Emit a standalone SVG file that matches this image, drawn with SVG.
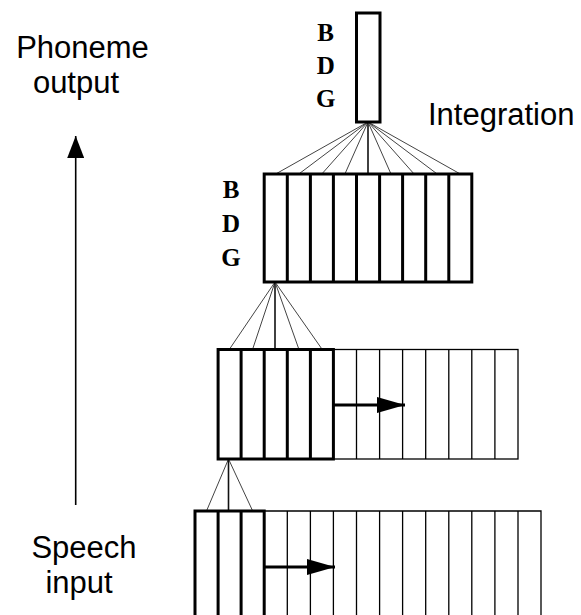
<svg xmlns="http://www.w3.org/2000/svg" width="581" height="615" viewBox="0 0 581 615">
  <style>
    .thick { fill: none; stroke: #000; stroke-width: 3; }
    .thin { fill: none; stroke: #000; stroke-width: 1.3; }
    .fan { stroke: #444; stroke-width: 1; fill: none; }
    .fanc { stroke: #111; stroke-width: 1.6; fill: none; }
    .lbl { font-family: "Liberation Sans", Arial, sans-serif; font-size: 31px; fill: #000; }
    .ph { font-family: "Liberation Serif", "Times New Roman", serif; font-weight: bold; font-size: 25px; fill: #000; text-anchor: middle; }
    .shift { stroke: #000; stroke-width: 3; fill: none; }
  </style>
  <defs>
    <marker id="head" viewBox="0 0 28 16" refX="28" refY="8" markerWidth="28" markerHeight="16" markerUnits="userSpaceOnUse" orient="auto">
      <path d="M0,0 L28,8 L0,16 Z" fill="#000"/>
    </marker>
    <marker id="headUp" viewBox="0 0 22 17" refX="22" refY="8.5" markerWidth="22" markerHeight="17" markerUnits="userSpaceOnUse" orient="auto">
      <path d="M0,0 L22,8.5 L0,17 Z" fill="#000"/>
    </marker>
  </defs>

  <rect width="581" height="615" fill="#fff"/>

  <!-- side labels and processing direction -->
  <g id="direction">
    <text class="lbl" x="82.5" y="58" text-anchor="middle">Phoneme</text>
    <text class="lbl" x="76" y="93" text-anchor="middle">output</text>
    <text class="lbl" x="84" y="558" text-anchor="middle">Speech</text>
    <text class="lbl" x="79" y="593" text-anchor="middle">input</text>
    <line x1="75.7" y1="505" x2="75.7" y2="136" stroke="#000" stroke-width="1.6" marker-end="url(#headUp)"/>
  </g>

  <!-- connectors between layers -->
  <g id="connectors">
    <!-- integration unit to layer 2 -->
    <line class="fan" x1="368" y1="122" x2="275.7" y2="174"/>
    <line class="fan" x1="368" y1="122" x2="298.8" y2="174"/>
    <line class="fan" x1="368" y1="122" x2="321.8" y2="174"/>
    <line class="fan" x1="368" y1="122" x2="344.9" y2="174"/>
    <line class="fanc" x1="368" y1="122" x2="368" y2="174"/>
    <line class="fan" x1="368" y1="122" x2="391" y2="174"/>
    <line class="fan" x1="368" y1="122" x2="414.1" y2="174"/>
    <line class="fan" x1="368" y1="122" x2="437.2" y2="174"/>
    <line class="fan" x1="368" y1="122" x2="460.3" y2="174"/>
    <!-- layer 2 to hidden layer -->
    <line class="fan" x1="275" y1="282" x2="229.6" y2="349"/>
    <line class="fan" x1="275" y1="282" x2="252.7" y2="349"/>
    <line class="fanc" x1="275" y1="282" x2="275" y2="349"/>
    <line class="fan" x1="275" y1="282" x2="298.8" y2="349"/>
    <line class="fan" x1="275" y1="282" x2="321.9" y2="349"/>
    <!-- hidden layer to input -->
    <line class="fan" x1="228.5" y1="459" x2="206.5" y2="511"/>
    <line class="fanc" x1="228.5" y1="459" x2="228.5" y2="511"/>
    <line class="fan" x1="228.5" y1="459" x2="252.7" y2="511"/>
  </g>

  <!-- integration unit -->
  <g id="integration">
    <rect class="thick" x="356.5" y="13" width="23.5" height="109"/>
    <text class="ph" x="325.7" y="41">B</text>
    <text class="ph" x="325.7" y="74">D</text>
    <text class="ph" x="325.7" y="107">G</text>
    <text class="lbl" x="428" y="125">Integration</text>
  </g>

  <!-- second hidden layer: 9 frames -->
  <g id="layer2">
    <rect class="thick" x="264.2" y="174" width="207.6" height="108"/>
    <path class="thick" d="M287.3,174V282 M310.4,174V282 M333.4,174V282 M356.5,174V282 M379.6,174V282 M402.6,174V282 M425.7,174V282 M448.8,174V282"/>
    <text class="ph" x="231" y="198">B</text>
    <text class="ph" x="231" y="232">D</text>
    <text class="ph" x="231" y="266">G</text>
  </g>

  <!-- first hidden layer: 5-frame window sliding over 13 frames -->
  <g id="layer1">
    <rect class="thin" x="333.4" y="349.5" width="184.6" height="109.5"/>
    <path class="thin" d="M356.5,349.5V459 M379.6,349.5V459 M402.6,349.5V459 M425.7,349.5V459 M448.8,349.5V459 M471.8,349.5V459 M494.9,349.5V459"/>
    <rect class="thick" x="218.1" y="349.5" width="115.3" height="109.5"/>
    <path class="thick" d="M241.1,349.5V459 M264.2,349.5V459 M287.3,349.5V459 M310.4,349.5V459"/>
    <line class="shift" x1="334" y1="405" x2="405" y2="405" marker-end="url(#head)"/>
  </g>

  <!-- input layer: 3-frame window sliding over 15 frames -->
  <g id="input">
    <path class="thin" d="M264.2,511H541V620 M287.3,511V620 M310.4,511V620 M333.4,511V620 M356.5,511V620 M379.6,511V620 M402.6,511V620 M425.7,511V620 M448.8,511V620 M471.8,511V620 M494.9,511V620 M518,511V620"/>
    <path class="thick" d="M195,620V511H264.2V620 M218.1,511V620 M241.1,511V620"/>
    <line class="shift" x1="265" y1="567" x2="335" y2="567" marker-end="url(#head)"/>
  </g>
</svg>
